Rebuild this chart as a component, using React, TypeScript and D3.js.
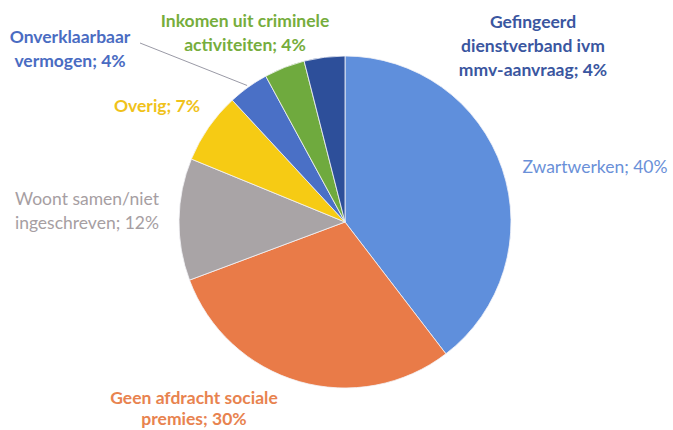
import React from "react";
import * as d3 from "d3";

const categories = [
  "Zwartwerken",
  "Geen afdracht sociale premies",
  "Woont samen/niet ingeschreven",
  "Overig",
  "Onverklaarbaar vermogen",
  "Inkomen uit criminele activiteiten",
  "Gefingeerd dienstverband ivm mmv-aanvraag",
];
const values = [40, 30, 12, 7, 4, 4, 4];
const sliceColors = ["#5f8fdc", "#e97b48", "#a9a4a6", "#f6cb14", "#4a70c6", "#6faa3e", "#2d4f9a"];
const labelColors = ["#6a90d8", "#e8834f", "#a69ea2", "#f0c21a", "#4a6cc2", "#76ad3c", "#3a56a0"];
const labelLines = [
  ["Zwartwerken; 40%"],
  ["Geen afdracht sociale", "premies; 30%"],
  ["Woont samen/niet", "ingeschreven; 12%"],
  ["Overig; 7%"],
  ["Onverklaarbaar", "vermogen; 4%"],
  ["Inkomen uit criminele", "activiteiten; 4%"],
  ["Gefingeerd", "dienstverband ivm", "mmv-aanvraag; 4%"],
];
const labelBold = [false, true, false, true, true, true, true];

const W = 673;
const H = 430;
const cx = 345;
const cy = 222;
const R = 166;

// label anchor positions (center x, first baseline y, line height)
const labelPos: [number, number, number][] = [
  [595, 173, 24],
  [194, 404, 21],
  [87, 205, 24],
  [157, 112, 24],
  [70, 43, 24],
  [245, 27, 24],
  [533, 28, 24],
];

export default function App() {
  const pie = d3.pie<number>().sort(null).value((d) => d)(values);
  const arc = d3.arc<d3.PieArcDatum<number>>().innerRadius(0).outerRadius(R);
  return (
    <svg
      width={W}
      height={H}
      style={{ position: "absolute", left: 0, top: 0, background: "#fff" }}
      fontFamily="Lato, 'Open Sans', sans-serif"
    >
      <g transform={`translate(${cx},${cy})`}>
        {pie.map((p, i) => (
          <path key={categories[i]} d={arc(p) || ""} fill={sliceColors[i]} stroke="#f4f4f8" strokeWidth={0.8} />
        ))}
      </g>
      {/* leader line for Onverklaarbaar vermogen */}
      {(() => {
        const p = pie[4];
        const a = (p.startAngle + p.endAngle) / 2;
        const ex = cx + Math.sin(a) * (R + 2);
        const ey = cy - Math.cos(a) * (R + 2);
        return <line x1={140} y1={43} x2={ex} y2={ey} stroke="#9a9aa6" strokeWidth={1} />;
      })()}
      {labelLines.map((lines, i) => (
        <text
          key={categories[i]}
          x={labelPos[i][0]}
          y={labelPos[i][1]}
          textAnchor="middle"
          fontSize={17.5}
          fontWeight={labelBold[i] ? 700 : 400}
          fill={labelColors[i]}
        >
          {lines.map((l, j) => (
            <tspan key={j} x={labelPos[i][0]} y={labelPos[i][1] + j * labelPos[i][2]}>
              {l}
            </tspan>
          ))}
        </text>
      ))}
    </svg>
  );
}
